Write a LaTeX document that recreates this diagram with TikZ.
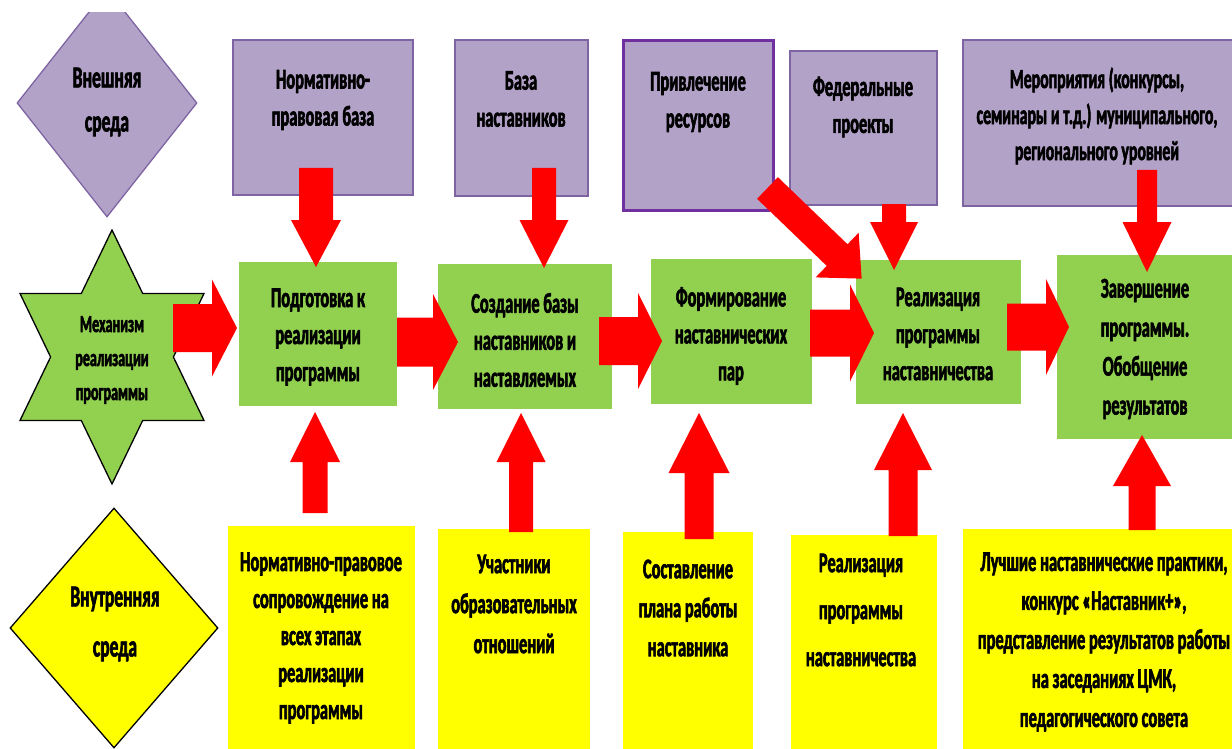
\documentclass[tikz,border=0pt]{standalone}
\usepackage{fontspec}
\setmainfont{Carlito}[FakeStretch=0.575, BoldFeatures={FakeBold=2}]
\usetikzlibrary{calc,shapes.geometric}
\definecolor{purF}{HTML}{B3A2C7}
\definecolor{purD}{HTML}{7F64A3}
\definecolor{purDD}{HTML}{7030A0}
\definecolor{grnF}{HTML}{92D050}
\definecolor{ylwF}{HTML}{FFFF00}
\definecolor{arrR}{HTML}{FF0000}
% block arrow: #1 start, #2 end (named coordinates), #3 shaft width, #4 head width, #5 head length
\newcommand\blkarrow[5]{%
  \path let \p1=(#1), \p2=(#2) in \pgfextra{%
    \pgfmathsetmacro\bkang{atan2(\y2-\y1,\x2-\x1)}%
    \pgfmathsetmacro\bklen{veclen(\x2-\x1,\y2-\y1)}%
    \xdef\bkangG{\bkang}\xdef\bklenG{\bklen}};%
  \fill[arrR, shift={(#1)}, rotate=\bkangG]
    (0,-#3/2) -- (\bklenG-#5,-#3/2) -- (\bklenG-#5,-#4/2) -- (\bklenG,0)
    -- (\bklenG-#5,#4/2) -- (\bklenG-#5,#3/2) -- (0,#3/2) -- cycle;}
\begin{document}
\begin{tikzpicture}[x=1pt,y=-1pt,
  pbox/.style={draw=purD, fill=purF, line width=1.3pt, inner sep=0pt, outer sep=0pt},
  gbox/.style={fill=grnF, inner sep=0pt, outer sep=0pt},
  ybox/.style={fill=ylwF, inner sep=0pt, outer sep=0pt},
  txt/.style={font=\bfseries\fontsize{28.5}{37}\selectfont, align=center, inner sep=0pt, text=black},
  stxt/.style={font=\bfseries\fontsize{24.5}{34}\selectfont, align=center, inner sep=0pt, text=black},
  dtxt/.style={font=\bfseries\fontsize{30.5}{44}\selectfont, align=center, inner sep=0pt, text=black},
]
\useasboundingbox (0,0) rectangle (1232,749);
\clip (0,0) rectangle (1232,749);

% external environment diamond (cut at top)
\begin{scope}
\clip (0,13) rectangle (1232,749);
\node[diamond, draw=purD, fill=purF, line width=1.3pt, minimum width=180pt, minimum height=228pt, inner sep=0pt] (ext) at (107,103) {};
\end{scope}
\node[dtxt] (extt) at (107,102) {Внешняя\\среда};

% internal environment diamond
\node[diamond, draw=black, fill=ylwF, line width=1.3pt, minimum width=208pt, minimum height=240pt, inner sep=0pt] (int) at (114,628) {};
\node[dtxt, font=\bfseries\fontsize{30.5}{50}\selectfont] (intt) at (115,624) {Внутренняя\\среда};

% star
\draw[fill=grnF, draw=black, line width=1.3pt]
  (112,230) -- (142.7,293.5) -- (204,293.5) -- (173.4,357) -- (204,420.5)
  -- (142.7,420.5) -- (112,484) -- (81.3,420.5) -- (20,420.5) -- (50.6,357)
  -- (20,293.5) -- (81.3,293.5) -- cycle;
\node[stxt] (mech) at (112,360) {Механизм\\реализации\\программы};

% purple boxes
\node[pbox, minimum width=180pt, minimum height=155pt] (p1) at (323,117.5) {};
\node[pbox, minimum width=133pt, minimum height=156pt] (p2) at (521.5,118) {};
\node[pbox, draw=purDD, line width=3pt, minimum width=150pt, minimum height=169pt] (p3) at (698,125.5) {};
\node[pbox, minimum width=147pt, minimum height=154pt] (p4) at (863.5,128) {};
\node[pbox, minimum width=277pt, minimum height=166pt] (p5) at (1101.5,123) {};

% green boxes
\node[gbox, minimum width=158pt, minimum height=144pt] (g1) at (318,334) {};
\node[gbox, minimum width=174pt, minimum height=145pt] (g2) at (525,336.5) {};
\node[gbox, minimum width=161pt, minimum height=145pt] (g3) at (731.5,331.5) {};
\node[gbox, minimum width=165pt, minimum height=144pt] (g4) at (938.5,332) {};
\node[gbox, minimum width=183pt, minimum height=184pt] (g5) at (1148.5,347) {};

% yellow boxes
\node[ybox, minimum width=187pt, minimum height=234pt] (y1) at (321.5,643) {};
\node[ybox, minimum width=152pt, minimum height=231pt] (y2) at (514,644.5) {};
\node[ybox, minimum width=130pt, minimum height=228pt] (y3) at (688,646) {};
\node[ybox, minimum width=146pt, minimum height=225pt] (y4) at (864,647.5) {};
\node[ybox, minimum width=282pt, minimum height=231pt] (y5) at (1104,644.5) {};

% arrow end points
\coordinate (h0s) at (173,328);  \coordinate (h0e) at (237,328);
\coordinate (h1s) at (397,342);  \coordinate (h1e) at (458,342);
\coordinate (h2s) at (599,341);  \coordinate (h2e) at (662,341);
\coordinate (h3s) at (810,333);  \coordinate (h3e) at (874,333);
\coordinate (h4s) at (1007,327); \coordinate (h4e) at (1069,327);
\coordinate (d1s) at (316,168);  \coordinate (d1e) at (316,267);
\coordinate (d2s) at (544,168);  \coordinate (d2e) at (544,268);
\coordinate (d3s) at (894,204);  \coordinate (d3e) at (894,270);
\coordinate (d4s) at (1147,170); \coordinate (d4e) at (1147,272);
\coordinate (d5s) at (767.5,188);\coordinate (d5e) at (862,279);
\coordinate (u1s) at (315,513);  \coordinate (u1e) at (315,412);
\coordinate (u2s) at (521,532);  \coordinate (u2e) at (521,413);
\coordinate (u3s) at (699,539);  \coordinate (u3e) at (699,413);
\coordinate (u4s) at (903,536);  \coordinate (u4e) at (903,413);
\coordinate (u5s) at (1142,530); \coordinate (u5e) at (1142,435);

% arrows
\blkarrow{h0s}{h0e}{48}{97}{25}
\blkarrow{h1s}{h1e}{49}{96}{25}
\blkarrow{h2s}{h2e}{48}{96}{24}
\blkarrow{h3s}{h3e}{47}{97}{24}
\blkarrow{h4s}{h4e}{47}{96}{23}
\blkarrow{d1s}{d1e}{34}{50}{47}
\blkarrow{d2s}{d2e}{24}{49}{48}
\blkarrow{d3s}{d3e}{24}{48}{48}
\blkarrow{d4s}{d4e}{20}{49}{50}
\blkarrow{d5s}{d5e}{30}{62}{34}
\blkarrow{u1s}{u1e}{25}{50}{50}
\blkarrow{u2s}{u2e}{24}{49}{49}
\blkarrow{u3s}{u3e}{29}{61}{60}
\blkarrow{u4s}{u4e}{29}{58}{57}
\blkarrow{u5s}{u5e}{27}{58}{51}

% texts
\node[txt] (p1t) at (323,100) {Нормативно-\\правовая база};
\node[txt] (p2t) at (521,99) {База\\наставников};
\node[txt] (p3t) at (698,102) {Привлечение\\ресурсов};
\node[txt] (p4t) at (863,107) {Федеральные\\проекты};
\node[txt, font=\bfseries\fontsize{27.5}{36}\selectfont] (p5t) at (1097,116) {Мероприятия (конкурсы,\\семинары и т.д.) муниципального,\\регионального уровней};

\node[txt] (g1t) at (318,337) {Подготовка к\\реализации\\программы};
\node[txt] (g2t) at (525,340) {Создание базы\\наставников и\\наставляемых};
\node[txt] (g3t) at (731,336) {Формирование\\наставнических\\пар};
\node[txt] (g4t) at (938,334) {Реализация\\программы\\наставничества};
\node[txt, font=\bfseries\fontsize{28.5}{39}\selectfont] (g5t) at (1145,349) {Завершение\\программы.\\Обобщение\\результатов};

\node[txt] (y1t) at (321,638) {Нормативно-правовое\\сопровождение на\\всех этапах\\реализации\\программы};
\node[txt, font=\bfseries\fontsize{28.5}{40}\selectfont] (y2t) at (514,604) {Участники\\образовательных\\отношений};
\node[txt, font=\bfseries\fontsize{28.5}{39}\selectfont] (y3t) at (688,608) {Составление\\плана работы\\наставника};
\node[txt, font=\bfseries\fontsize{28.5}{47}\selectfont] (y4t) at (861,610) {Реализация\\программы\\наставничества};
\node[txt, font=\bfseries\fontsize{28.5}{39}\selectfont] (y5t) at (1104,642) {Лучшие наставнические практики,\\конкурс «Наставник+»,\\представление результатов работы\\на заседаниях ЦМК,\\педагогического совета};
\end{tikzpicture}
\end{document}
